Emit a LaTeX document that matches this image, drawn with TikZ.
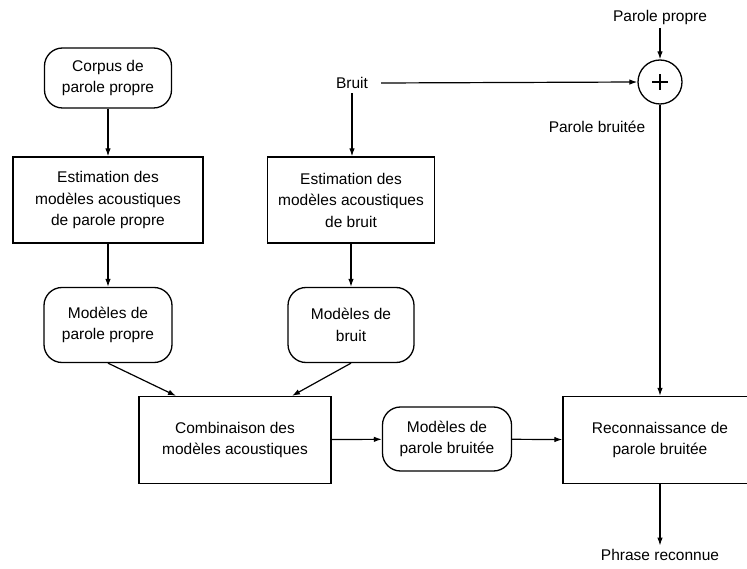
\documentclass[tikz,border=0pt]{standalone}
\usepackage{fontspec}
\setmainfont{Liberation Sans}
\usetikzlibrary{arrows.meta}
\begin{document}
\begin{tikzpicture}[x=1pt,y=-1pt,
  every node/.style={font=\fontsize{15.5}{21.5}\selectfont, align=center, inner sep=0pt},
  box/.style={draw, line width=1.3pt},
  rbox/.style={draw, line width=1.3pt, rounded corners=18pt},
  lbl/.style={inner xsep=2pt, inner ysep=3.5pt},
  arr/.style={-{Latex[length=8pt,width=5.5pt]}, line width=1.2pt}]
\clip (0,0) rectangle (747,569);
% nodes
\node[rbox, minimum width=127pt, minimum height=60pt] (corpus) at (108,78) {Corpus de\\parole propre};
\node[box, minimum width=190pt, minimum height=86pt] (est1) at (108,200) {Estimation des\\modèles acoustiques\\de parole propre};
\node[box, minimum width=167pt, minimum height=86pt] (est2) at (351,200) {Estimation des\\modèles acoustiques\\de bruit};
\node[rbox, minimum width=128pt, minimum height=75pt] (mod1) at (108,325) {Modèles de\\parole propre};
\node[rbox, minimum width=126pt, minimum height=75pt] (mod2) at (351,325) {Modèles de\\bruit};
\node[box, minimum width=192pt, minimum height=87pt] (comb) at (235,440) {Combinaison des\\modèles acoustiques};
\node[rbox, minimum width=129pt, minimum height=64pt] (modb) at (447,439) {Modèles de\\parole bruitée};
\node[box, minimum width=194pt, minimum height=87pt] (reco) at (660,440) {Reconnaissance de\\parole bruitée};
\node[draw, circle, line width=1.3pt, minimum size=44pt] (sum) at (660,82) {};
\draw[line width=1.3pt] ([xshift=-8pt]sum.center) -- ([xshift=8pt]sum.center)
  ([yshift=-8pt]sum.center) -- ([yshift=8pt]sum.center);
\node[inner xsep=13pt, inner ysep=4.5pt] (bruit) at (352,83) {Bruit};
\node[lbl] (pp) at (660,17) {Parole propre};
\node[lbl] (pb) at (597,127) {Parole bruitée};
\node[lbl] (phrase) at (660,555) {Phrase reconnue};
% connectors
\draw[arr] (corpus) -- (est1);
\draw[arr] (est1) -- (mod1);
\draw[arr] (bruit.south) -- (bruit.south |- est2.north);
\draw[arr] (est2) -- (mod2);
\draw[arr] (bruit.east) -- (sum.west);
\draw[arr] (pp) -- (sum);
\draw[arr] (sum) -- (reco);
\draw[arr] (mod1.south) -- ([xshift=-59pt]comb.north);
\draw[arr] (mod2.south) -- ([xshift=57pt]comb.north);
\draw[arr] (comb) -- (modb);
\draw[arr] (modb) -- (reco);
\draw[arr] (reco) -- (phrase);
\end{tikzpicture}
\end{document}
